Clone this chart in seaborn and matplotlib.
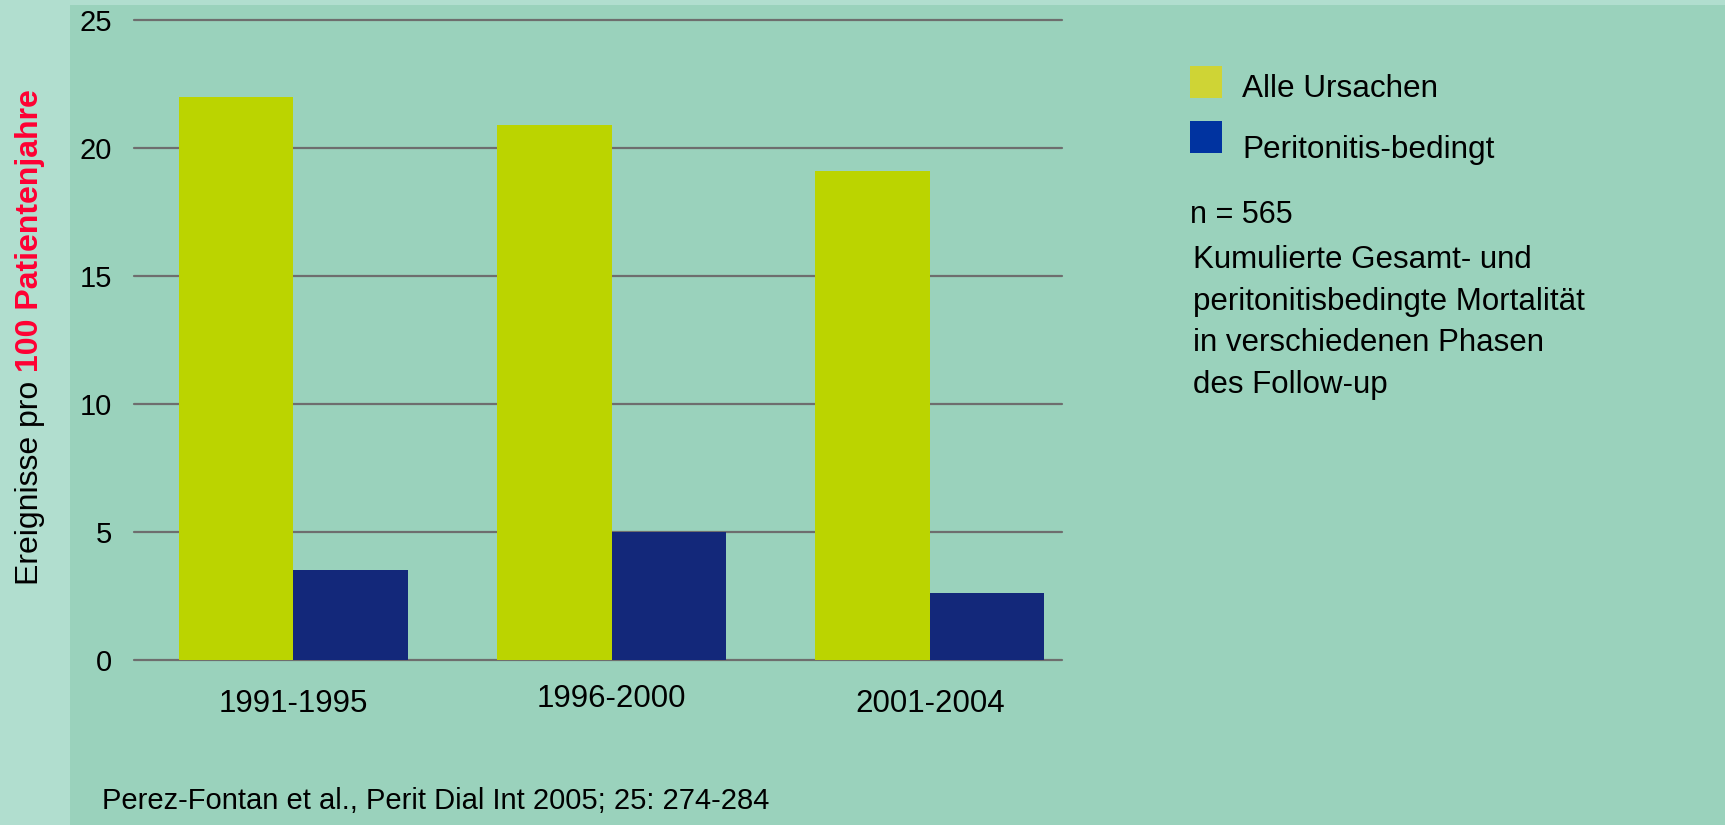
import pandas as pd
import matplotlib.pyplot as plt
import matplotlib.patches as patches
import matplotlib.transforms as mtransforms
import seaborn as sns

periods = ['1991-1995', '1996-2000', '2001-2004']
series = ['Alle Ursachen', 'Peritonitis-bedingt']
alle = [22.0, 20.9, 19.1]
peri = [3.5, 5.0, 2.6]
yticks = [0, 5, 10, 15, 20, 25]
note_lines = ['Kumulierte Gesamt- und', 'peritonitisbedingte Mortalität',
              'in verschiedenen Phasen', 'des Follow-up']

bar_colors = ['#bbd400', '#13287a']
legend_colors = ['#cfd435', '#0033a0']
bg = '#9ad2bc'
strip = '#b1decf'

df = pd.DataFrame({
    'Zeitraum': periods * 2,
    'Wert': alle + peri,
    'Art': [series[0]] * 3 + [series[1]] * 3,
})

sns.set_style('white')
plt.rcParams['font.family'] = ['Liberation Sans', 'DejaVu Sans']
plt.rcParams['text.color'] = 'black'
plt.rcParams['xtick.color'] = 'black'
plt.rcParams['ytick.color'] = 'black'

W, H = 1725, 825
fig = plt.figure(figsize=(17.25, 8.25), dpi=100)
fig.patch.set_facecolor(bg)
# light strips on the left and top
fig.add_artist(patches.Rectangle((0, 0), 70 / W, 1, transform=fig.transFigure,
                                 facecolor=strip, edgecolor='none', zorder=0))
fig.add_artist(patches.Rectangle((0, 1 - 5 / H), 1, 5 / H, transform=fig.transFigure,
                                 facecolor=strip, edgecolor='none', zorder=0))

ax = fig.add_axes([134 / W, 165 / H, 928 / W, 640 / H])
ax.set_facecolor('none')
sns.barplot(data=df, x='Zeitraum', y='Wert', hue='Art', order=periods, hue_order=series,
            palette=bar_colors, saturation=1, width=0.72, edgecolor='none', linewidth=0,
            legend=False, ax=ax)

ax.set_xlim(-0.5, 2.415)
ax.set_ylim(0, 25)
ax.set_yticks(yticks)
ax.set_yticklabels([str(t) for t in yticks], fontsize=21)
ax.yaxis.grid(True, color='#6e6e6e', linewidth=1.6)
for gl in ax.get_ygridlines():
    gl.set_clip_on(False)
ax.set_axisbelow(True)
for s in ax.spines.values():
    s.set_visible(False)
ax.tick_params(axis='both', length=0)
ax.tick_params(axis='y', pad=16)
ax.tick_params(axis='x', pad=21)
for lab in ax.get_xticklabels():
    lab.set_fontsize(22.5)
# the middle period label sits a little higher in the original
mid = ax.get_xticklabels()[1]
mid.set_transform(mid.get_transform() + mtransforms.ScaledTranslation(0, 4 / 72, fig.dpi_scale_trans))
ax.set_xlabel('')
ax.set_ylabel('')

# y label in two colours, stacked along the rotated baseline
t1 = fig.text(30 / W, 1 - 585 / H, 'Ereignisse pro ', rotation=90, ha='center', va='bottom',
              fontsize=23, color='black')
fig.canvas.draw()
ext = t1.get_window_extent()
fig.text(30 / W, ext.y1 / fig.bbox.height, '100 Patientenjahre', rotation=90, ha='center',
         va='bottom', fontsize=23, color='#ff0033', fontweight='bold')

# legend
tops = [66, 121]
baselines = [97, 158]
sq = 32
for name, col, top, base in zip(series, legend_colors, tops, baselines):
    fig.add_artist(patches.Rectangle((1190 / W, 1 - (top + sq) / H), sq / W, sq / H,
                                     transform=fig.transFigure, facecolor=col, edgecolor='none'))
    fig.text(1242 / W, 1 - base / H, name, ha='left', va='baseline', fontsize=22.7)

fig.text(1190 / W, 1 - 223 / H, 'n = 565', ha='left', va='baseline', fontsize=22)
for i, line in enumerate(note_lines):
    fig.text(1193 / W, 1 - (268 + i * 41.7) / H, line, ha='left', va='baseline', fontsize=22.5)

fig.text(102 / W, 1 - 801 / H, 'Perez-Fontan et al., Perit Dial Int 2005; 25: 274-284',
         ha='left', va='center', fontsize=21)

fig.savefig('out.png', dpi=100, facecolor=bg)
